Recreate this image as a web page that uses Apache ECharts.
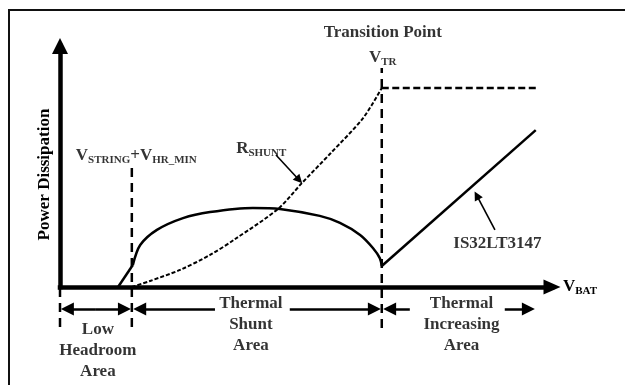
<!DOCTYPE html>
<html>
<head>
<meta charset="utf-8">
<script src="https://cdn.jsdelivr.net/npm/echarts@6/dist/echarts.min.js"></script>
<style>
  html, body { margin: 0; padding: 0; background: #fff; }
  #chart { width: 625px; height: 385px; }
</style>
</head>
<body>
<div id="chart"></div>
<script>
// Operating regions boundaries (V_BAT axis units)
const vLeft = 0;
const vHrMin = 14.6;   // V_STRING + V_HR_MIN
const vTr = 65.4;      // transition point V_TR

// IS32LT3147 power dissipation: low-headroom ramp, thermal shunt hump, linear rise
const is32Ramp = [[11.8, 0], [14.8, 9.1]];
const is32Shunt = [
  [14.8, 9.1], [16.3, 17.4], [19.7, 23.7], [25.0, 28.6], [30.5, 31.1],
  [39.2, 32.8], [44.7, 32.4], [52.8, 29.5], [56.9, 26.6], [61.0, 21.6],
  [63.6, 16.2], [65.0, 12.0], [65.4, 8.7]
];
const is32Rise = [[65.4, 8.7], [96.7, 65.1]];

// R_SHUNT dissipation, then clamped after V_TR
const rShunt = [
  [14.6, 0], [18.3, 2.5], [24.4, 7.1], [30.5, 13.3], [35.6, 19.9],
  [44.3, 32.4], [49.2, 43.2], [55.0, 55.5], [61.6, 70.1], [65.4, 82.6]
];
const rShuntFlat = [[65.4, 82.6], [97.0, 82.6]];

// Vertical boundary markers [x, yBottom, yTop]
const boundaries = [[vLeft, -16.6, 0], [vHrMin, -16.6, 50.2], [vTr, -17.0, 90.9]];

// Region span arrows (start of shaft, arrow tip centre) at the arrow row
const spanRow = -9.1;
const spanArrows = [
  [7.3, 1.5], [7.3, 13.1],
  [31.5, 16.2], [46.7, 63.9],
  [71.1, 67.0], [90.4, 95.2]
];
// Pointer arrows to the curves
const pointerArrows = [
  [[43.9, 54.8], [48.6, 44.4]],
  [[88.4, 23.7], [84.7, 38.0]]
];

// Text annotations [x, y, text]
const notes = [
  [65.6, 105.6, 'Transition Point'],
  [65.6, 95.2, '{v|V}{s|TR}'],
  [15.5, 54.6, '{v|V}{s|STRING}{v|+V}{s|HR_MIN}'],
  [40.9, 57.6, '{v|R}{s|SHUNT}'],
  [88.9, 18.0, 'IS32LT3147'],
  [7.7, -26.3, 'Low\nHeadroom\nArea'],
  [38.8, -15.4, 'Thermal\nShunt\nArea'],
  [81.6, -15.4, 'Thermal\nIncreasing\nArea']
];

const serif = '"Liberation Serif", "Times New Roman", serif';
const ink = '#000';
const rich = {
  v: { fontFamily: serif, fontWeight: 'bold', fontSize: 17, lineHeight: 19, color: ink },
  s: { fontFamily: serif, fontWeight: 'bold', fontSize: 11, verticalAlign: 'bottom', color: ink }
};

const chart = echarts.init(document.getElementById('chart'), null, { renderer: 'canvas' });

const lineBase = (name, data, width, type, smooth) => ({
  name: name,
  type: 'line',
  data: data,
  showSymbol: false,
  symbol: 'none',
  clip: false,
  smooth: smooth || false,
  lineStyle: { color: ink, width: width, type: type, cap: 'butt' },
  z: 3
});

const series = [
  lineBase('IS32LT3147', is32Ramp, 2.5, 'solid'),
  lineBase('IS32LT3147', is32Shunt, 2.5, 'solid', 0.3),
  lineBase('IS32LT3147', is32Rise, 2.5, 'solid'),
  lineBase('RSHUNT', rShunt, 2, [4, 2], 0.3),
  lineBase('RSHUNT', rShuntFlat, 2.5, [7, 3.5])
];

boundaries.forEach(b => {
  series.push(lineBase('boundary', [[b[0], b[1]], [b[0], b[2]]], 2.5, [9, 6]));
});

series.push({
  name: 'spans',
  type: 'lines',
  coordinateSystem: 'cartesian2d',
  clip: false,
  symbol: ['none', 'triangle'],
  symbolSize: [12, 13],
  lineStyle: { color: ink, width: 2.5, opacity: 1 },
  data: spanArrows.map(a => ({ coords: [[a[0], spanRow], [a[1], spanRow]] })),
  z: 4
});

series.push({
  name: 'pointers',
  type: 'lines',
  coordinateSystem: 'cartesian2d',
  clip: false,
  symbol: ['none', 'triangle'],
  symbolSize: [8, 9],
  lineStyle: { color: ink, width: 1.6, opacity: 1 },
  data: pointerArrows.map(p => ({ coords: p })),
  z: 4
});

series.push({
  name: 'notes',
  type: 'scatter',
  clip: false,
  symbolSize: 0,
  silent: true,
  data: notes.map(n => ({ value: [n[0], n[1]], label: { formatter: n[2] } })),
  label: {
    show: true,
    position: 'inside',
    color: ink,
    fontFamily: serif,
    fontWeight: 'bold',
    fontSize: 17,
    lineHeight: 21,
    rich: rich
  },
  z: 5
});

chart.setOption({
  animation: false,
  backgroundColor: '#fff',
  grid: { left: 60, right: 73, top: 46, bottom: 98, containLabel: false },
  xAxis: {
    type: 'value', min: 0, max: 100,
    name: '{v|V}{s|BAT}',
    nameLocation: 'end',
    nameGap: 11,
    nameTextStyle: { rich: rich, verticalAlign: 'middle' },
    axisLine: {
      show: true, onZero: true,
      symbol: ['none', 'triangle'], symbolSize: [15, 17],
      lineStyle: { color: ink, width: 4.5, cap: 'square' }
    },
    axisTick: { show: false }, axisLabel: { show: false }, splitLine: { show: false }
  },
  yAxis: {
    type: 'value', min: 0, max: 100,
    name: 'Power Dissipation',
    nameLocation: 'middle',
    nameRotate: 90,
    nameGap: 7,
    nameTextStyle: {
      fontFamily: serif, fontWeight: 'bold', fontSize: 17, color: ink,
      padding: [0, 16, 0, 0]
    },
    axisLine: {
      show: true, onZero: false,
      symbol: ['none', 'triangle'], symbolSize: [16, 16],
      lineStyle: { color: ink, width: 4.5, cap: 'square' }
    },
    axisTick: { show: false }, axisLabel: { show: false }, splitLine: { show: false }
  },
  graphic: [
    {
      type: 'line',
      shape: { x1: 8, y1: 10, x2: 625, y2: 10 },
      style: { stroke: '#111', lineWidth: 2 },
      silent: true
    },
    {
      type: 'line',
      shape: { x1: 9, y1: 9, x2: 9, y2: 385 },
      style: { stroke: '#111', lineWidth: 2 },
      silent: true
    }
  ],
  series: series
});
</script>
</body>
</html>
